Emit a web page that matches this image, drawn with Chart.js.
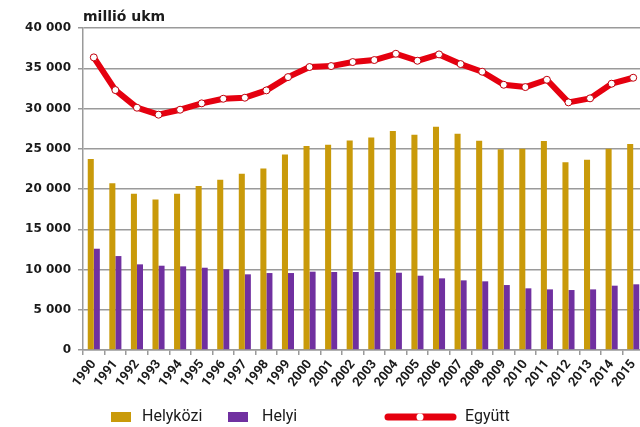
<!DOCTYPE html>
<html>
<head>
<meta charset="utf-8">
<script src="https://cdn.jsdelivr.net/npm/chart.js@4"></script>
<style>
html,body{margin:0;padding:0;background:#fff;overflow:hidden;width:640px;height:427px;}
canvas{display:block;}
</style>
</head>
<body>
<canvas id="c" width="660" height="427"></canvas>
<script>
const years = ['1990','1991','1992','1993','1994','1995','1996','1997','1998','1999','2000','2001','2002','2003','2004','2005','2006','2007','2008','2009','2010','2011','2012','2013','2014','2015'];
const helykozi = [23720,20700,19410,18710,19410,20370,21160,21900,22560,24300,25340,25500,26040,26410,27200,26740,27740,26870,26000,24930,25000,25960,23310,23640,25000,25590];
const helyi = [12580,11670,10640,10470,10390,10220,10020,9400,9560,9560,9730,9690,9690,9690,9600,9230,8900,8650,8530,8070,7660,7530,7450,7530,7990,8160];
const egyutt = [36350,32290,30100,29230,29850,30640,31210,31340,32250,33900,35150,35270,35770,36020,36800,35930,36720,35520,34570,32950,32660,33570,30760,31260,33080,33820];
const unitTitle = 'millió ukm';

const GOLD = '#C99A0A';
const PURPLE = '#7030A0';
const RED = '#E5000F';
const GRID = '#9a9a9a';

const fmt = v => String(v).replace(/\B(?=(\d{3})+(?!\d))/g, ' ');

const extras = {
  id: 'extras',
  afterDraw(chart) {
    const ctx = chart.ctx;
    const ds = chart.data.datasets;
    ctx.save();
    ctx.fillStyle = '#1a1a1a';
    ctx.font = 'bold 14px "DejaVu Sans"';
    ctx.textAlign = 'left';
    ctx.textBaseline = 'alphabetic';
    ctx.fillText(unitTitle, chart.chartArea.left, 21);
    ctx.font = '16px Roboto';
    ctx.textBaseline = 'middle';
    const ly = 417;
    ctx.fillStyle = ds[1].backgroundColor;
    ctx.fillRect(111, 412, 20, 10);
    ctx.fillStyle = '#1a1a1a';
    ctx.fillText(ds[1].label, 142, ly);
    ctx.fillStyle = ds[2].backgroundColor;
    ctx.fillRect(228, 412, 20, 10);
    ctx.fillStyle = '#1a1a1a';
    ctx.fillText(ds[2].label, 262, ly);
    ctx.strokeStyle = ds[0].borderColor;
    ctx.lineWidth = 7;
    ctx.lineCap = 'round';
    ctx.beginPath();
    ctx.moveTo(388, ly);
    ctx.lineTo(453, ly);
    ctx.stroke();
    ctx.beginPath();
    ctx.fillStyle = '#fff';
    ctx.arc(420, ly, 3.5, 0, Math.PI * 2);
    ctx.fill();
    ctx.fillStyle = '#1a1a1a';
    ctx.fillText(ds[0].label, 465, ly);
    ctx.restore();
  }
};

new Chart(document.getElementById('c'), {
  type: 'bar',
  data: {
    labels: years,
    datasets: [
      {
        type: 'line',
        label: 'Együtt',
        data: egyutt,
        borderColor: RED,
        borderWidth: 6,
        borderJoinStyle: 'round',
        borderCapStyle: 'round',
        tension: 0,
        pointRadius: 3.5,
        pointBackgroundColor: '#fff',
        pointBorderColor: '#c0000c',
        pointBorderWidth: 1,
        order: 0
      },
      {
        label: 'Helyközi',
        data: helykozi,
        backgroundColor: GOLD,
        categoryPercentage: 0.56,
        barPercentage: 1,
        order: 1
      },
      {
        label: 'Helyi',
        data: helyi,
        backgroundColor: PURPLE,
        categoryPercentage: 0.56,
        barPercentage: 1,
        order: 1
      }
    ]
  },
  options: {
    responsive: false,
    animation: false,
    devicePixelRatio: 1,
    layout: { padding: { left: 0, right: 16, top: 28, bottom: 0 } },
    plugins: { legend: { display: false }, tooltip: { enabled: false }, title: { display: false } },
    scales: {
      x: {
        offset: true,
        grid: { display: true, drawOnChartArea: false, drawTicks: true, tickLength: 5, color: GRID, lineWidth: 1.5 },
        border: { display: true, color: GRID, width: 1.5 },
        ticks: {
          autoSkip: false,
          minRotation: 52,
          maxRotation: 52,
          padding: 2,
          color: '#1a1a1a',
          font: { family: 'Roboto', weight: 'bold', size: 13 }
        },
        afterFit(scale) { scale.height = 77; }
      },
      y: {
        min: 0,
        max: 40000,
        ticks: {
          stepSize: 5000,
          padding: 7,
          color: '#1a1a1a',
          font: { family: '"DejaVu Sans"', weight: 'bold', size: 12 },
          callback: v => fmt(v)
        },
        grid: { color: GRID, lineWidth: 1.5, tickLength: 5, drawTicks: true },
        border: { display: true, color: GRID, width: 1.5 },
        afterFit(scale) { scale.width = 83; }
      }
    }
  },
  plugins: [extras]
});
</script>
</body>
</html>
